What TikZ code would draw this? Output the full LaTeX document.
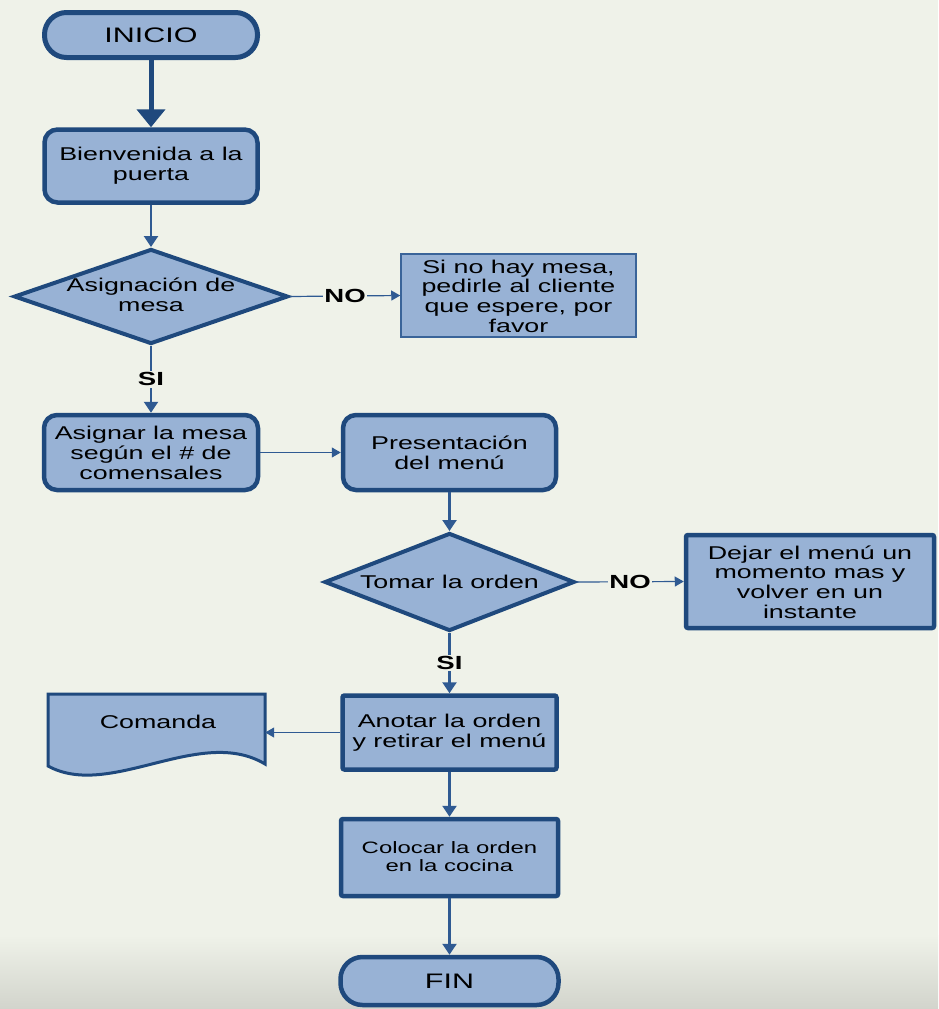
\documentclass[tikz,border=0pt]{standalone}
\usepackage{fontspec}
\setmainfont{Liberation Sans}[FakeStretch=1.45]
\usetikzlibrary{shapes.geometric,arrows.meta}
\definecolor{bg}{HTML}{EFF2E9}
\definecolor{bgdark}{HTML}{D2D4CC}
\definecolor{boxfill}{HTML}{98B2D5}
\definecolor{boxline}{HTML}{1F497D}
\definecolor{conn}{HTML}{2F5A92}
\definecolor{thinline}{HTML}{3A6499}
\tikzset{
  txt/.style={font=\fontsize{18.5}{20}\selectfont, align=center, text=black, inner sep=0pt},
  base/.style={draw=boxline, fill=boxfill, inner sep=0pt},
  term/.style={base, line width=5pt, rectangle, rounded corners=22pt},
  procr/.style={base, line width=4.5pt, rectangle, rounded corners=13pt},
  procs/.style={base, line width=4.5pt, rectangle, rounded corners=2pt},
  decis/.style={base, line width=4pt, diamond},
  thinbox/.style={base, draw=thinline, line width=1.5pt, rectangle},
  bigarrow/.style={draw=boxline, line width=5pt, -{Triangle[width=28pt,length=18pt]}},
  varrow/.style={draw=conn, line width=2.4pt, -{Triangle[width=14pt,length=11pt]}},
  harrow/.style={draw=conn, line width=1.2pt, -{Triangle[width=10pt,length=9pt]}},
  lbl/.style={font=\fontsize{19}{20}\selectfont\bfseries, fill=bg, inner sep=1.5pt, text=black}
}
\begin{document}
\begin{tikzpicture}[x=1pt,y=-1pt]
\fill[bg] (0,0) rectangle (938,1009);
\shade[top color=bg, bottom color=bgdark] (0,935) rectangle (938,1009);
\useasboundingbox (0,0) rectangle (938,1009);

% shapes
\node[term, minimum width=213pt, minimum height=45pt] (inicio) at (151,35) {};
\node[txt, font=\fontsize{21}{22}\selectfont] (inicioT) at (151,35) {INICIO};

\node[procr, minimum width=213pt, minimum height=73pt] (bienv) at (151,166) {};
\node[txt] (bienvT) at (151,166) {Bienvenida a la\\puerta};

\node[decis, minimum width=274pt, minimum height=95pt] (d1) at (151,296.5) {};
\node[txt] (d1T) at (151,295) {Asignación de\\mesa};

\node[thinbox, minimum width=235pt, minimum height=83pt] (nomesa) at (518.5,295.5) {};
\node[txt, font=\fontsize{18.5}{19.7}\selectfont] (nomesaT) at (518.5,296) {Si no hay mesa,\\pedirle al cliente\\que espere, por\\favor};

\node[procr, minimum width=214pt, minimum height=75pt] (asig) at (151,452.5) {};
\node[txt] (asigT) at (151,453) {Asignar la mesa\\según el \# de\\comensales};

\node[procr, minimum width=213pt, minimum height=75pt] (pres) at (449.5,452.5) {};
\node[txt] (presT) at (449.5,453) {Presentación\\del menú};

\node[decis, minimum width=250pt, minimum height=98pt] (d2) at (449.5,582) {};
\node[txt] (d2T) at (449.5,582) {Tomar la orden};

\node[procs, minimum width=248pt, minimum height=93pt] (dejar) at (810,581.5) {};
\node[txt, font=\fontsize{18.5}{19.7}\selectfont] (dejarT) at (810,582) {Dejar el menú un\\momento mas y\\volver en un\\instante};

\node[procs, minimum width=214pt, minimum height=74pt] (anotar) at (449.5,732.5) {};
\node[txt] (anotarT) at (449.5,733) {Anotar la orden\\y retirar el menú};

% document shape
\node[inner sep=0pt, minimum width=217pt, minimum height=72pt] (comanda) at (156.5,730) {};
\draw[draw=boxline, fill=boxfill, line width=3pt, line join=miter]
  (48,694) -- (265,694) -- (265,764)
  .. controls (200,725) and (110,800) .. (48,766) -- cycle;
\node[txt] (comandaT) at (158,722) {Comanda};

\node[procs, minimum width=217pt, minimum height=77pt] (colocar) at (449.5,857.5) {};
\node[txt, font=\fontsize{16.5}{18}\selectfont] (colocarT) at (449.5,857) {Colocar la orden\\en la cocina};

\node[term, line width=4.5pt, minimum width=218pt, minimum height=48pt] (fin) at (449.5,981) {};
\node[txt, font=\fontsize{21}{22}\selectfont] (finT) at (449.5,981) {FIN};

% connectors
\draw[bigarrow] (inicio.south) -- (bienv.north);
\draw[varrow] (bienv.south) -- (d1.north);
\draw[harrow] (d1.east) -- node[lbl] {NO} (nomesa.west);
\draw[varrow] (d1.south) -- node[lbl] {SI} (asig.north);
\draw[harrow] (asig.east) -- (pres.west);
\draw[varrow] (pres.south) -- (d2.north);
\draw[harrow] (d2.east) -- node[lbl] {NO} (dejar.west);
\draw[varrow] (d2.south) -- node[lbl] {SI} (anotar.north);
\draw[harrow] (anotar.west) -- (anotar.west -| comanda.east);
\draw[varrow] (anotar.south) -- (colocar.north);
\draw[varrow] (colocar.south) -- (fin.north);
\end{tikzpicture}
\end{document}
